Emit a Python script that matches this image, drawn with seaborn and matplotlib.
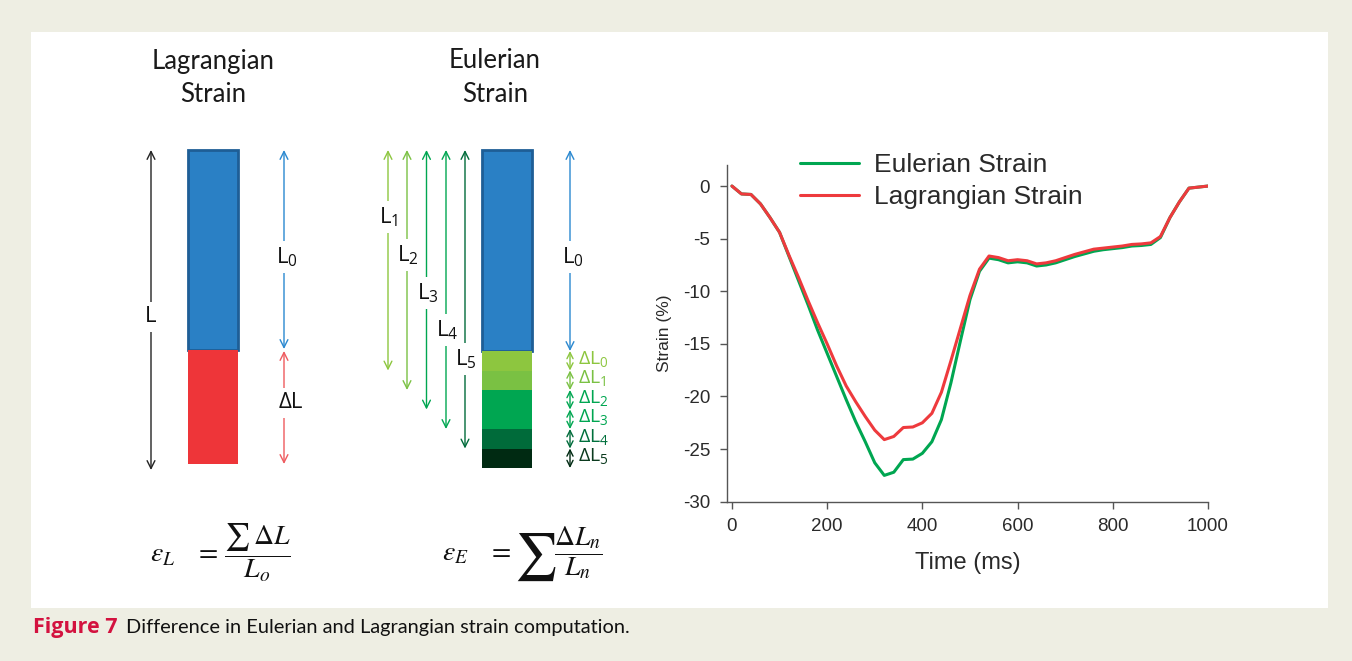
import matplotlib
matplotlib.use('Agg')
import matplotlib.pyplot as plt
from matplotlib.patches import Rectangle
import pandas as pd
import seaborn as sns

# ---------------- data ----------------
time_ms = list(range(0, 1001, 20))
eulerian_strain = [0.0, -0.75, -0.8, -1.7, -3.0, -4.4, -6.7, -9.0, -11.3, -13.7,
                   -15.9, -18.1, -20.3, -22.4, -24.3, -26.3, -27.5, -27.2, -26.0, -25.95,
                   -25.4, -24.3, -22.2, -18.7, -14.7, -10.8, -8.1, -6.85, -7.0, -7.3,
                   -7.2, -7.3, -7.6, -7.5, -7.3, -7.0, -6.7, -6.45, -6.2, -6.05,
                   -5.95, -5.85, -5.7, -5.65, -5.55, -4.9, -3.0, -1.5, -0.2, -0.1, 0.0]
lagrangian_strain = [0.0, -0.75, -0.8, -1.7, -3.0, -4.4, -6.6, -8.7, -10.9, -13.0,
                     -15.0, -17.1, -19.0, -20.5, -21.9, -23.2, -24.1, -23.8, -22.95, -22.9,
                     -22.5, -21.6, -19.6, -16.6, -13.5, -10.4, -7.9, -6.65, -6.8, -7.1,
                     -7.0, -7.1, -7.4, -7.3, -7.1, -6.8, -6.5, -6.25, -6.0, -5.9,
                     -5.8, -5.7, -5.55, -5.5, -5.4, -4.8, -3.0, -1.5, -0.2, -0.1, 0.0]
series_names = ['Eulerian Strain', 'Lagrangian Strain']
x_ticks = [0, 200, 400, 600, 800, 1000]
y_ticks = [0, -5, -10, -15, -20, -25, -30]

# schematic segment lengths (diagram units)
lagr_lengths = [200, 114]                       # L0, dL
lagr_labels = ['L$_\\mathregular{0}$', 'ΔL']
euler_lengths = [201, 19.5, 19.5, 19.5, 19.5, 19.5, 19.5]   # L0, dL0..dL5
euler_dl_labels = ['ΔL$_\\mathregular{%d}$' % i for i in range(6)]
euler_l_labels = ['L$_\\mathregular{%d}$' % i for i in range(1, 6)]

# ---------------- style ----------------
sns.set_style('white')
plt.rcParams['font.family'] = ['Liberation Sans', 'DejaVu Sans']

GREEN = '#00A651'
RED = '#EE3A3D'
BLUE = '#2A80C5'
BLUE_EDGE = '#1E5E96'
RED_BAR = '#EE3539'
SEG_GREENS = ['#8DC63F', '#7AC143', '#00A651', '#00A651', '#006B3A', '#002A12']
DL_TEXT = ['#8DC63F', '#7AC143', '#00A651', '#00A651', '#00703C', '#0B3A1E']
BG = '#EEEEE3'
DIAG_FONT = ['Open Sans', 'DejaVu Sans']
TITLE_FONT = ['Lato', 'DejaVu Sans']

W, H = 1352, 661
fig = plt.figure(figsize=(W / 100, H / 100), dpi=100)
fig.patch.set_facecolor(BG)

# background / schematic axes in pixel units
bg = fig.add_axes([0, 0, 1, 1], zorder=0)
bg.set_xlim(0, W)
bg.set_ylim(H, 0)
bg.axis('off')
bg.add_patch(Rectangle((31, 32), 1297, 576, facecolor='white', edgecolor='none'))

def arrow(ax, x, y0, y1, color, lw=1.0, ms=14):
    ax.annotate('', xy=(x, y1), xytext=(x, y0),
                arrowprops=dict(arrowstyle='<->', color=color, lw=lw,
                                mutation_scale=ms, shrinkA=0, shrinkB=0))

def label(ax, x, y, s, color='#111111', size=16, ha='center', box=True):
    kw = dict(ha=ha, va='center', fontsize=size, color=color, family=DIAG_FONT)
    if box:
        kw['bbox'] = dict(boxstyle='square,pad=0.2', fc='white', ec='none')
    ax.text(x, y, s, **kw)

def title(ax, x, lines):
    for y, s in zip([61, 95], lines):
        ax.text(x, y, s, ha='center', va='center', fontsize=18.5,
                family=TITLE_FONT, color='#1a1a1a')

TOP = 150
# ---- Lagrangian schematic ----
lx, bw = 213, 50
bottoms = [TOP, TOP + lagr_lengths[0]]
bg.bar([lx], [lagr_lengths[0]], bottom=[bottoms[0]], width=bw, color=BLUE,
       edgecolor=BLUE_EDGE, linewidth=2)
bg.bar([lx], [lagr_lengths[1]], bottom=[bottoms[1]], width=bw, color=RED_BAR,
       edgecolor='none', linewidth=0)
lag_end = TOP + sum(lagr_lengths)
arrow(bg, 151, TOP, lag_end + 6, '#222222')
label(bg, 151, 317, 'L')
arrow(bg, 284, TOP, TOP + lagr_lengths[0] - 1, '#2A88D0')
label(bg, 287, 257, lagr_labels[0])
arrow(bg, 284, TOP + lagr_lengths[0] + 1, lag_end, '#EE5A5E')
label(bg, 291, 403, lagr_labels[1])
title(bg, 213, ['Lagrangian', 'Strain'])

# ---- Eulerian schematic ----
ex = 507
cum = TOP
bounds = []
for i, seg in enumerate(euler_lengths):
    if i == 0:
        bg.bar([ex], [seg], bottom=[cum], width=bw, color=BLUE,
               edgecolor=BLUE_EDGE, linewidth=2)
    else:
        bg.bar([ex], [seg], bottom=[cum], width=bw, color=SEG_GREENS[i - 1],
               edgecolor='none', linewidth=0)
    cum += seg
    bounds.append(cum)
# L0 on right
arrow(bg, 570, TOP, bounds[0], '#2A88D0')
label(bg, 573, 257, 'L$_\\mathregular{0}$')
# dL small arrows and labels
for i in range(6):
    y0, y1 = bounds[i], bounds[i + 1]
    arrow(bg, 570, y0, y1, SEG_GREENS[i], ms=11)
    label(bg, 578, (y0 + y1) / 2 - 1, euler_dl_labels[i], color=DL_TEXT[i],
          size=14, ha='left', box=False)
# L1..L5 on left
l_x = [388, 407, 426.5, 446, 465]
l_label_y = [217, 255, 293, 330, 359]
for n in range(5):
    arrow(bg, l_x[n], TOP, bounds[n + 1], SEG_GREENS[n])
    label(bg, l_x[n] + 1, l_label_y[n], euler_l_labels[n])
title(bg, 495, ['Eulerian', 'Strain'])

# ---- formulas ----
bg.text(150, 553, r'$\varepsilon_L\ \ \ =\,\dfrac{\sum\,\Delta L}{L_o}$', ha='left',
        va='center', fontsize=20, math_fontfamily='stix', color='#111111')
bg.text(442, 553, r'$\varepsilon_E\ \ \ =$', ha='left',
        va='center', fontsize=20, math_fontfamily='stix', color='#111111')
bg.text(514, 557, r'$\sum$', ha='left', va='center', fontsize=34,
        math_fontfamily='stix', color='#111111')
bg.text(554, 553, r'$\dfrac{\Delta L_n}{L_n}$', ha='left',
        va='center', fontsize=20, math_fontfamily='stix', color='#111111')

# ---- caption ----
t1 = bg.text(33, 627, 'Figure 7', ha='left', va='center', fontsize=15.5,
             fontweight='bold', family=DIAG_FONT, color='#D3123F')
fig.canvas.draw()
bb = t1.get_window_extent(renderer=fig.canvas.get_renderer())
bg.text(bb.x1 + 8, 627, 'Difference in Eulerian and Lagrangian strain computation.',
        ha='left', va='center', fontsize=14.4, family=TITLE_FONT, color='#111111')

# ---------------- strain chart ----------------
left, right, top, bottom = 726.7, 1208, 165, 501.7
ax = fig.add_axes([left / W, 1 - bottom / H, (right - left) / W, (bottom - top) / H], zorder=2)
ax.patch.set_alpha(0)

df = pd.DataFrame({
    'Time (ms)': time_ms * 2,
    'Strain (%)': eulerian_strain + lagrangian_strain,
    'Series': [series_names[0]] * len(time_ms) + [series_names[1]] * len(time_ms),
})
sns.lineplot(data=df, x='Time (ms)', y='Strain (%)', hue='Series',
             palette=[GREEN, RED], linewidth=2.2, ax=ax)

ax.set_xlim(-11, 1000)
ax.set_ylim(-30, 2)
ax.set_xticks(x_ticks)
ax.set_yticks(y_ticks)
ax.set_yticklabels([str(v) for v in y_ticks])
for s in ['top', 'right']:
    ax.spines[s].set_visible(False)
for s in ['left', 'bottom']:
    ax.spines[s].set_color('#555555')
    ax.spines[s].set_linewidth(1.0)
ax.tick_params(axis='both', direction='out', length=5, width=1, color='#555555',
               labelsize=13.5, labelcolor='#2a2a2a', pad=7, left=True, bottom=True)
ax.set_xlabel('Time (ms)', fontsize=17, color='#2a2a2a', labelpad=12)
ax.set_ylabel('Strain (%)', fontsize=12.5, color='#2a2a2a', labelpad=8)

handles, labels = ax.get_legend_handles_labels()
ax.legend(handles=handles, labels=labels, loc='upper left',
          bbox_to_anchor=(800 / W, 1 - 153 / H), bbox_transform=fig.transFigure,
          frameon=False, fontsize=19, handlelength=2.25, handletextpad=0.55,
          labelspacing=0.32, borderpad=0, borderaxespad=0)
for t in ax.get_legend().get_texts():
    t.set_color('#2a2a2a')

fig.savefig('out.png', dpi=100, facecolor=BG)
